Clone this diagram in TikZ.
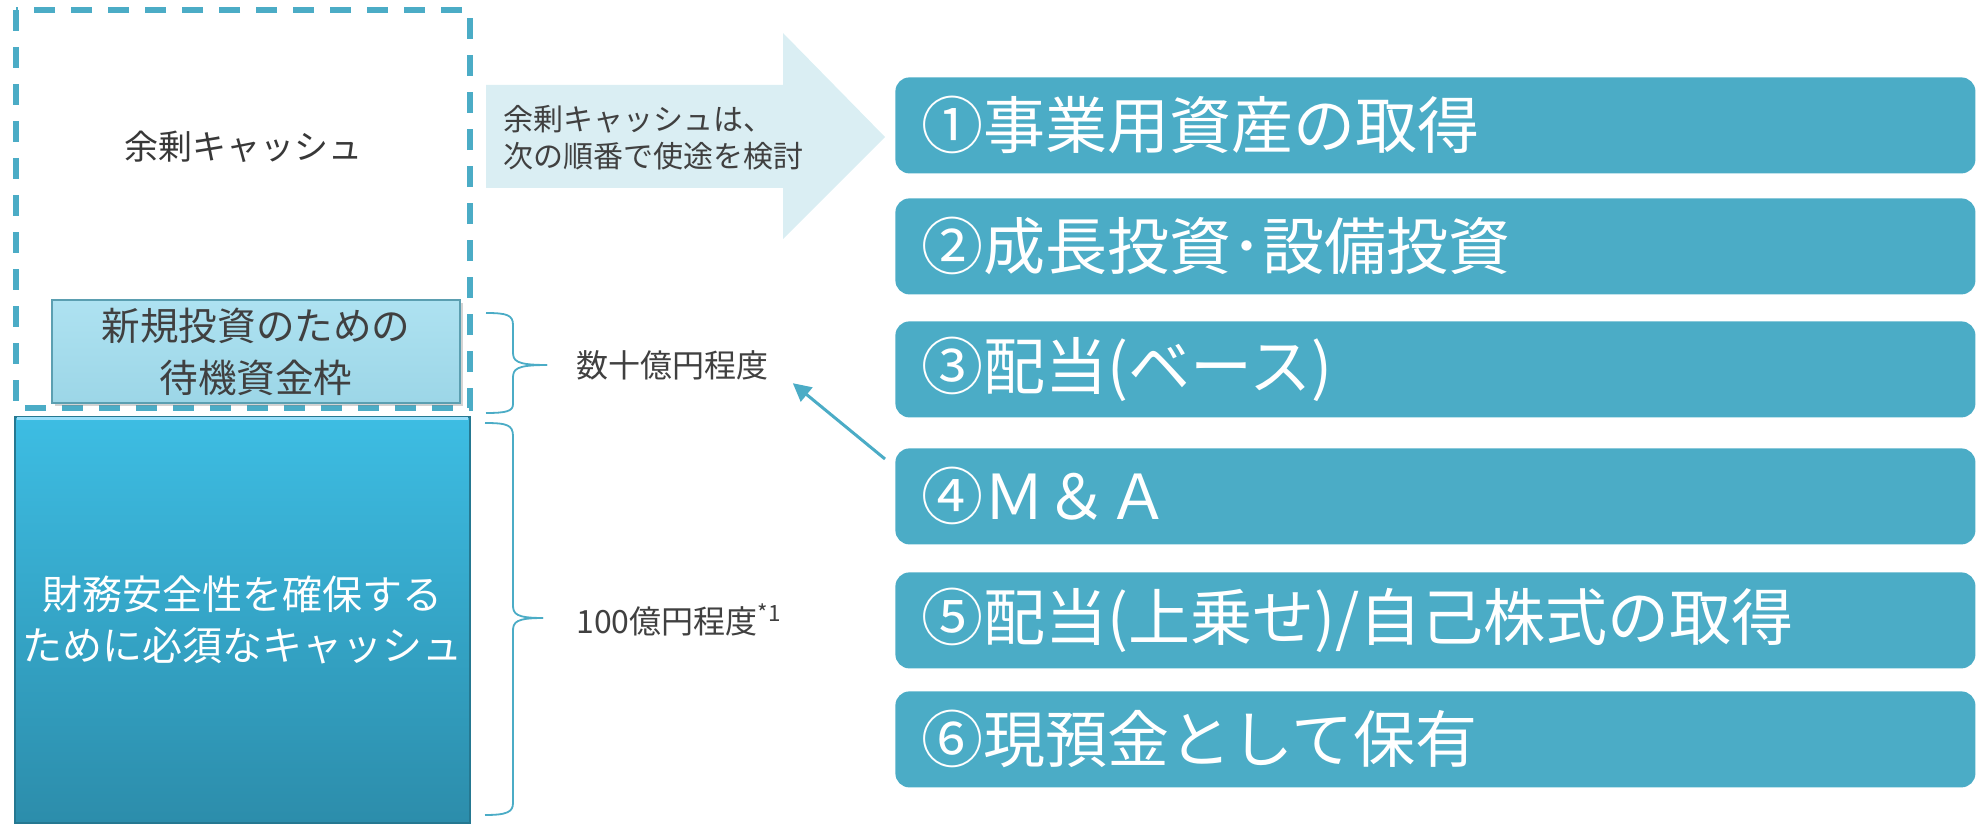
\documentclass[tikz,border=0pt]{standalone}
\usepackage{fontspec}
\setmainfont{Noto Sans CJK JP}
\usetikzlibrary{arrows.meta,shadows,calc}
\definecolor{teal1}{HTML}{4BACC6}
\definecolor{arrowbg}{HTML}{DAEEF3}
\definecolor{txtgray}{HTML}{404040}
\definecolor{lighttop}{HTML}{AEE2F1}
\definecolor{lightbot}{HTML}{9CD6E7}
\definecolor{bigtop}{HTML}{3DBDE3}
\definecolor{bigbot}{HTML}{2C8DAB}
\begin{document}
\begin{tikzpicture}[x=0.5pt,y=-0.5pt,
  usebox/.style={fill=teal1, rounded corners=7pt, minimum width=540pt, minimum height=48pt, anchor=north west, inner sep=0pt},
  usetext/.style={text=white, font=\fontsize{31pt}{36pt}\selectfont, anchor=west, inner sep=0pt},
  bracepath/.style={draw=teal1, line width=0.9pt},
  lbl/.style={text=txtgray, inner sep=0pt},
  conn/.style={draw=teal1, line width=1.5pt, -{Triangle[length=9pt,width=9pt]}},
  dashbox/.style={draw=teal1, line width=2.6pt, dash pattern=on 10.5pt off 8pt}
]
\useasboundingbox (0,0) rectangle (1977,824);

% dashed surplus frame
\draw[dashbox] (16,10) rectangle (470,408);
\node[lbl, font=\fontsize{17pt}{20pt}\selectfont, text=black!78] (surplus) at (243,147) {余剰キャッシュ};

% standby box
\node[top color=lighttop, bottom color=lightbot, draw=teal1!70!gray, line width=0.6pt,
      minimum width=204pt, minimum height=51.5pt, inner sep=0pt,
      drop shadow={shadow xshift=1.5pt, shadow yshift=-1.5pt, opacity=0.35},
      align=center, text=txtgray, font=\fontsize{19.3pt}{26pt}\selectfont]
      (standby) at (256,351.5) {新規投資のための\\待機資金枠};

% safety box
\node[top color=bigtop, bottom color=bigbot, draw=bigbot!85!black, line width=0.6pt,
      minimum width=227.5pt, minimum height=203pt, inner sep=0pt,
      align=center, text=white, font=\fontsize{20pt}{25.5pt}\selectfont]
      (safety) at (242.5,620) {財務安全性を確保する\\ために必須なキャッシュ};
\draw[cyan!40!white, line width=1.5pt] ([shift={(3,2)}]safety.north west) -- ([shift={(-3,2)}]safety.north east);

% big arrow
\fill[arrowbg] (486,85) -- (783,85) -- (783,33) -- (885,137) -- (783,239) -- (783,188) -- (486,188) -- cycle;
\node[lbl, anchor=west, align=left, font=\fontsize{15pt}{18.5pt}\selectfont] (arrowtxt) at (503,138) {余剰キャッシュは、\\次の順番で使途を検討};

% braces
\draw[bracepath] (486,313) .. controls (507,313) and (513,315) .. (513,325) -- (513,352)
   .. controls (513,361) and (516,365) .. (547,365);
\draw[bracepath] (547,365) .. controls (516,365) and (513,369) .. (513,378) -- (513,404)
   .. controls (513,411) and (507,413) .. (486,413);
\draw[bracepath] (485,423) .. controls (507,423) and (513,425) .. (513,436) -- (513,605)
   .. controls (513,614) and (516,618) .. (543,618);
\draw[bracepath] (543,618) .. controls (516,618) and (513,622) .. (513,631) -- (513,803)
   .. controls (513,812) and (507,815) .. (485,815);

\node[lbl, anchor=west, font=\fontsize{16pt}{19pt}\selectfont] (num1) at (576,365) {数十億円程度};
\node[lbl, anchor=west, font=\fontsize{16pt}{19pt}\selectfont] (num2) at (576,620) {100億円程度\textsuperscript{*1}};

% use boxes
\node[usebox] (b1) at (895,77) {};
\node[usebox] (b2) at (895,198) {};
\node[usebox] (b3) at (895,321) {};
\node[usebox] (b4) at (895,448) {};
\node[usebox] (b5) at (895,572) {};
\node[usebox] (b6) at (895,691) {};
\node[usetext] (t1) at ([xshift=13pt]b1.west) {①事業用資産の取得};
\node[usetext] (t2) at ([xshift=13pt]b2.west) {②成長投資･設備投資};
\node[usetext] (t3) at ([xshift=13pt]b3.west) {③配当(ベース)};
\node[usetext] (t4) at ([xshift=13pt]b4.west) {④Ｍ＆Ａ};
\node[usetext] (t5) at ([xshift=13pt]b5.west) {⑤配当(上乗せ)/自己株式の取得};
\node[usetext] (t6) at ([xshift=13pt]b6.west) {⑥現預金として保有};

% connector
\draw[conn] ([shift={(-10,11)}]b4.north west) -- ([shift={(24,3)}]num1.south east);
\end{tikzpicture}
\end{document}
